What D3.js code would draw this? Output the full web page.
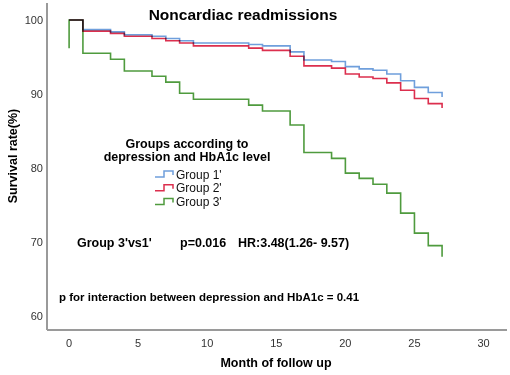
<!DOCTYPE html>
<html>
<head>
<meta charset="utf-8">
<script src="https://cdn.jsdelivr.net/npm/d3@7"></script>
<style>
  body { margin: 0; background: #fff; }
  svg { font-family: Arial, "Liberation Sans", sans-serif; }
</style>
</head>
<body>
<div id="chart"></div>
<script>
// Kaplan-Meier step data (months, survival %)
const group1Months = [0, 1, 3, 4, 6, 7, 8, 9, 13, 14, 16, 17, 19, 20, 21, 22, 23, 24, 25, 26, 27];
const group1Values = [100, 98.7, 98.4, 98.0, 97.8, 97.5, 97.2, 96.9, 96.7, 96.5, 95.7, 94.6, 94.4, 93.7, 93.4, 93.2, 92.7, 91.8, 90.9, 90.2, 89.6];

const group2Months = [0, 1, 3, 4, 6, 7, 8, 9, 13, 14, 16, 17, 19, 20, 21, 22, 23, 24, 25, 26, 27];
const group2Values = [100, 98.5, 98.2, 97.8, 97.5, 97.2, 96.9, 96.5, 96.2, 95.9, 95.1, 93.8, 93.5, 92.7, 92.3, 92.1, 91.5, 90.5, 89.4, 88.7, 88.1];

const group3Months = [0, 0, 1, 3, 4, 6, 7, 8, 9, 13, 14, 16, 17, 19, 20, 21, 22, 23, 24, 25, 26, 27];
const group3Values = [96.2, 100, 95.5, 94.7, 93.1, 92.4, 91.6, 90.1, 89.3, 88.5, 87.7, 85.8, 82.1, 81.3, 79.3, 78.6, 77.8, 76.6, 73.9, 71.2, 69.5, 68.0];

const groupNames = ["Group 1'", "Group 2'", "Group 3'"];
const xTicks = [0, 5, 10, 15, 20, 25, 30];
const yTicks = [60, 70, 80, 90, 100];

const width = 510;
const height = 375;

const svg = d3.select("#chart")
  .append("svg")
  .attr("width", width)
  .attr("height", height);

// scales
const x = d3.scaleLinear().domain([-1.6, 31.7]).range([47, 507]);
const y = d3.scaleLinear().domain([58.1, 102.3]).range([330, 3]);

// axes lines (no tick marks)
svg.append("line")
  .attr("x1", x(-1.6)).attr("x2", x(-1.6))
  .attr("y1", y(102.3)).attr("y2", y(58.1))
  .attr("stroke", "#9a9a9a").attr("stroke-width", 2);

svg.append("line")
  .attr("x1", x(-1.6)).attr("x2", x(31.7))
  .attr("y1", y(58.1)).attr("y2", y(58.1))
  .attr("stroke", "#9a9a9a").attr("stroke-width", 2);

svg.selectAll(".ytick")
  .data(yTicks)
  .enter()
  .append("text")
  .attr("class", "ytick")
  .attr("x", 43)
  .attr("y", d => y(d) + 4)
  .attr("text-anchor", "end")
  .style("font-size", "11px")
  .style("fill", "#333")
  .text(d => d);

svg.selectAll(".xtick")
  .data(xTicks)
  .enter()
  .append("text")
  .attr("class", "xtick")
  .attr("x", d => x(d))
  .attr("y", 347)
  .attr("text-anchor", "middle")
  .style("font-size", "11px")
  .style("fill", "#333")
  .text(d => d);

// axis titles
svg.append("text")
  .attr("x", 276)
  .attr("y", 367)
  .attr("text-anchor", "middle")
  .style("font-size", "12.5px")
  .style("font-weight", "bold")
  .text("Month of follow up");

svg.append("text")
  .attr("transform", "translate(17, 156) rotate(-90)")
  .attr("text-anchor", "middle")
  .style("font-size", "12.5px")
  .style("font-weight", "bold")
  .text("Survival rate(%)");

// title
svg.append("text")
  .attr("x", 243)
  .attr("y", 20)
  .attr("text-anchor", "middle")
  .style("font-size", "15.5px")
  .style("font-weight", "bold")
  .text("Noncardiac readmissions");

// curves
const colors = ["#6f9fdc", "#dc2f4e", "#4f9b3e"];
const series = [
  group1Months.map((m, i) => [m, group1Values[i]]),
  group2Months.map((m, i) => [m, group2Values[i]]),
  group3Months.map((m, i) => [m, group3Values[i]])
];

const line = d3.line()
  .x(d => x(d[0]))
  .y(d => y(d[1]))
  .curve(d3.curveStepAfter);

[2, 1, 0].forEach(i => {
  svg.append("path")
    .attr("d", line(series[i]))
    .attr("fill", "none")
    .attr("stroke", colors[i])
    .attr("stroke-width", 1.6)
    .style("mix-blend-mode", "multiply");
});

// legend
svg.append("text")
  .attr("x", 187)
  .attr("y", 148)
  .attr("text-anchor", "middle")
  .style("font-size", "12.5px")
  .style("font-weight", "bold")
  .text("Groups according to");

svg.append("text")
  .attr("x", 187)
  .attr("y", 161)
  .attr("text-anchor", "middle")
  .style("font-size", "12.5px")
  .style("font-weight", "bold")
  .text("depression and HbA1c level");

const legend = svg.selectAll(".legend")
  .data(groupNames)
  .enter()
  .append("g")
  .attr("class", "legend")
  .attr("transform", (d, i) => `translate(155, ${174 + i * 13.8})`);

legend.append("path")
  .attr("d", "M0,3 H9 V-3 H18 V1")
  .attr("fill", "none")
  .attr("stroke", (d, i) => colors[i])
  .attr("stroke-width", 1.5);

legend.append("text")
  .attr("x", 21)
  .attr("y", 4.5)
  .style("font-size", "12px")
  .style("fill", "#111")
  .text(d => d);

// annotations
const ann = svg.append("g")
  .style("font-size", "12.5px")
  .style("font-weight", "bold");

ann.append("text").attr("x", 77).attr("y", 247).text("Group 3'vs1'");
ann.append("text").attr("x", 180).attr("y", 247).text("p=0.016");
ann.append("text").attr("x", 238).attr("y", 247).text("HR:3.48(1.26- 9.57)");

svg.append("text")
  .attr("x", 59)
  .attr("y", 301)
  .style("font-size", "11.5px")
  .style("font-weight", "bold")
  .text("p for interaction between depression and HbA1c = 0.41");
</script>
</body>
</html>
